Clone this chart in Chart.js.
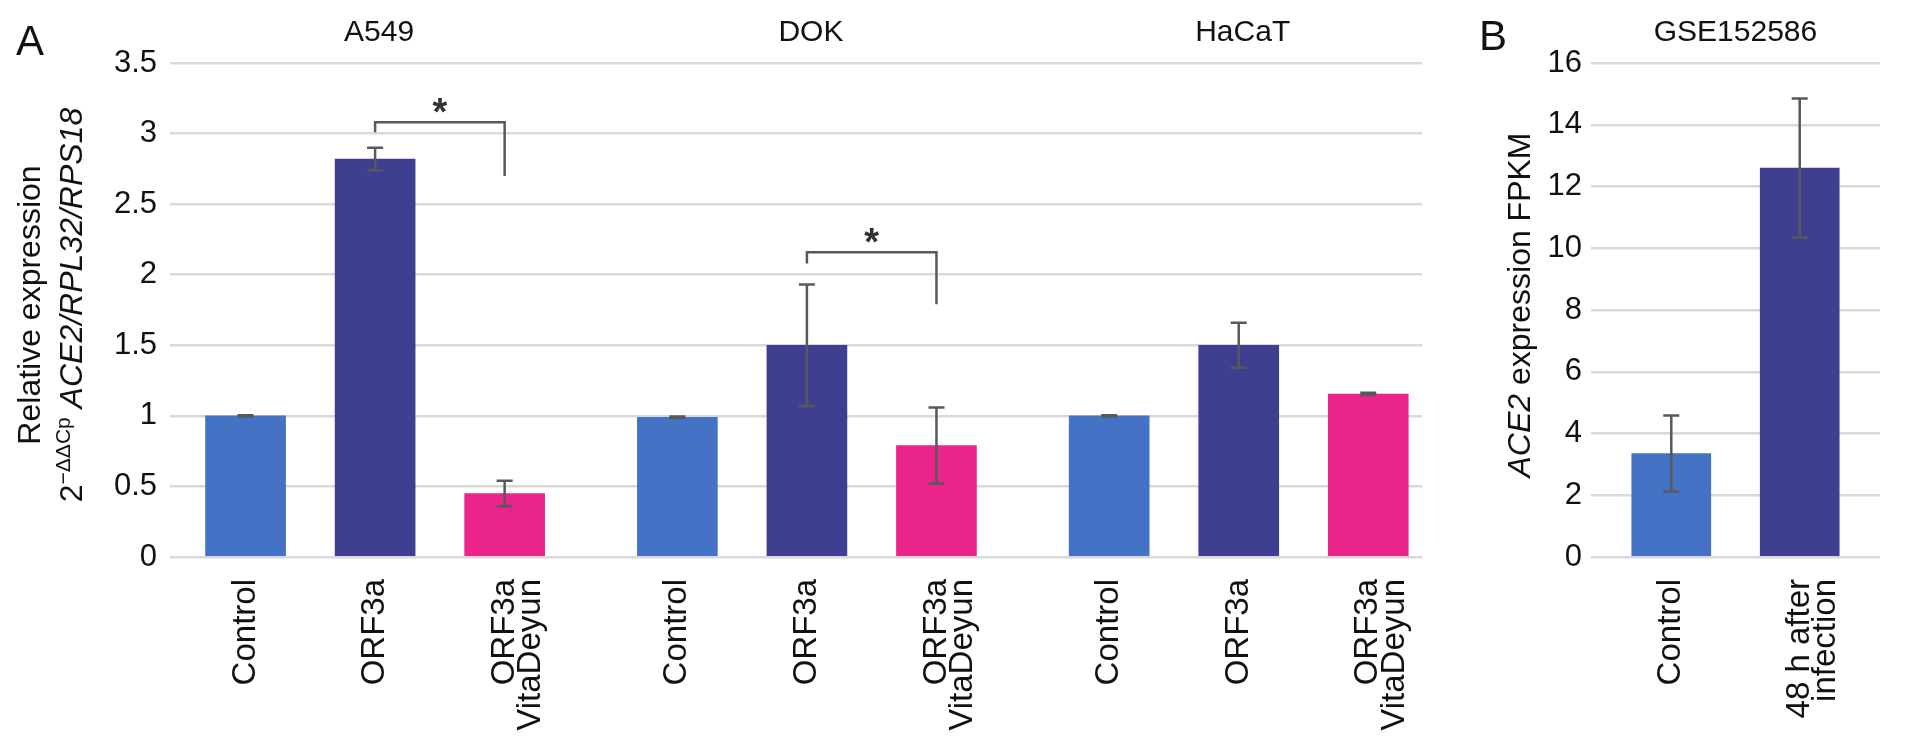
<!DOCTYPE html>
<html>
<head>
<meta charset="utf-8">
<title>ACE2 expression</title>
<script src="https://cdn.jsdelivr.net/npm/chart.js@4.4.0/dist/chart.umd.min.js"></script>
<style>
  body { margin: 0; background: #fff; }
  #wrap { position: relative; width: 1913px; height: 746px; }
  canvas { position: absolute; top: 0; }
</style>
</head>
<body>
<div id="wrap">
  <canvas id="chartA" width="1460" height="746" style="left:0"></canvas>
  <canvas id="chartB" width="453" height="746" style="left:1460px"></canvas>
</div>
<script>
// ---- panel A data ----
var cellLines = ['A549', 'DOK', 'HaCaT'];
var conditions = ['Control', 'ORF3a', ['ORF3a', 'VitaDeyun']];
var condColors = ['#4473c5', '#3f3f92', '#eb248b'];
var meanA549 = [1.00, 2.82, 0.45];
var errA549 = [0.005, 0.08, 0.09];
var meanDOK = [0.99, 1.50, 0.79];
var errDOK = [0.005, 0.43, 0.27];
var meanHaCaT = [1.00, 1.50, 1.155];
var errHaCaT = [0.005, 0.16, 0.008];
var yTicksA = [0, 0.5, 1, 1.5, 2, 2.5, 3, 3.5];
// brackets: group, from condition, to condition, top, left leg end, right leg end
var sigA549 = [0, 1, 2, 3.08, 3.01, 2.70];
var sigDOK = [1, 1, 2, 2.16, 2.08, 1.79];

// ---- panel B data ----
var groupsB = ['Control', ['48 h after', 'infection']];
var colorsB = ['#4473c5', '#3f3f92'];
var meanB = [3.35, 12.6];
var errB = [1.23, 2.25];
var yTicksB = [0, 2, 4, 6, 8, 10, 12, 14, 16];

Chart.defaults.font.family = "'Liberation Sans', Arial, sans-serif";
Chart.defaults.color = '#111';
var FONT = "'Liberation Sans', Arial, sans-serif";
var GRID = '#d9d9d9';
var INK = '#595959';

// panel A is laid out on narrow slots so groups get wider gaps
var SLOTS = 58, FIRST = 3, STEP = 6, GROUP = 20;
var labelsA = [], valuesA = [], errorsA = [], colorsA = [], centerSlot = [];
for (var i = 0; i < SLOTS; i++) { labelsA.push(''); valuesA.push(null); errorsA.push(null); colorsA.push('#fff'); }
var meansA = [meanA549, meanDOK, meanHaCaT], errsA = [errA549, errDOK, errHaCaT];
cellLines.forEach(function (name, g) {
  conditions.forEach(function (c, j) {
    var k = FIRST + g * GROUP + j * STEP;
    labelsA[k] = c; valuesA[k] = meansA[g][j]; errorsA[k] = errsA[g][j]; colorsA[k] = condColors[j];
  });
  centerSlot.push(FIRST + g * GROUP + STEP);
});

var slotB = [2, 6], labelsB = [], valuesB = [], errorsB = [], colB = [];
for (var i = 0; i < 9; i++) { labelsB.push(''); valuesB.push(null); errorsB.push(null); colB.push('#fff'); }
slotB.forEach(function (k, j) { labelsB[k] = groupsB[j]; valuesB[k] = meanB[j]; errorsB[k] = errB[j]; colB[k] = colorsB[j]; });

var errorBars = {
  id: 'errorBars',
  afterDatasetsDraw: function (chart) {
    var ctx = chart.ctx, ys = chart.scales.y, ds = chart.data.datasets[0];
    var meta = chart.getDatasetMeta(0);
    ctx.save();
    ctx.strokeStyle = INK; ctx.lineWidth = 2.5;
    meta.data.forEach(function (bar, i) {
      var v = ds.data[i], e = ds.errors[i];
      if (v == null || e == null) return;
      var t = ys.getPixelForValue(v + e), b = ys.getPixelForValue(v - e);
      ctx.beginPath();
      ctx.moveTo(bar.x, t); ctx.lineTo(bar.x, b);
      ctx.moveTo(bar.x - 8, t); ctx.lineTo(bar.x + 8, t);
      ctx.moveTo(bar.x - 8, b); ctx.lineTo(bar.x + 8, b);
      ctx.stroke();
    });
    ctx.restore();
  }
};

function drawRuns(ctx, runs, cx, cy) {
  // runs: [text, font, raise]; drawn rotated, centred on cy
  ctx.save();
  ctx.translate(cx, cy);
  ctx.rotate(-Math.PI / 2);
  ctx.textBaseline = 'alphabetic';
  ctx.textAlign = 'left';
  var total = 0;
  runs.forEach(function (r) { ctx.font = r[1]; total += ctx.measureText(r[0]).width; });
  var x = -total / 2;
  runs.forEach(function (r) {
    ctx.font = r[1];
    ctx.fillText(r[0], x, -(r[2] || 0));
    x += ctx.measureText(r[0]).width;
  });
  ctx.restore();
}

var decorA = {
  id: 'decorA',
  afterDraw: function (chart) {
    var ctx = chart.ctx, ys = chart.scales.y, meta = chart.getDatasetMeta(0);
    ctx.save();
    ctx.fillStyle = '#111';
    ctx.textAlign = 'center'; ctx.textBaseline = 'middle';
    ctx.font = '30px ' + FONT;
    cellLines.forEach(function (name, g) {
      ctx.fillText(name, meta.data[centerSlot[g]].x + 4, 33);
    });
    ctx.font = '42px ' + FONT;
    ctx.textAlign = 'left'; ctx.textBaseline = 'alphabetic';
    ctx.fillText('A', 16, 55);
    // significance brackets
    [sigA549, sigDOK].forEach(function (s) {
      var x1 = meta.data[FIRST + s[0] * GROUP + s[1] * STEP].x;
      var x2 = meta.data[FIRST + s[0] * GROUP + s[2] * STEP].x;
      var yt = ys.getPixelForValue(s[3]);
      ctx.strokeStyle = INK; ctx.lineWidth = 2.5;
      ctx.beginPath();
      ctx.moveTo(x1, ys.getPixelForValue(s[4]));
      ctx.lineTo(x1, yt); ctx.lineTo(x2, yt);
      ctx.lineTo(x2, ys.getPixelForValue(s[5]));
      ctx.stroke();
      ctx.font = 'bold 38px ' + FONT;
      ctx.textAlign = 'center'; ctx.textBaseline = 'middle';
      ctx.fillStyle = '#333';
      ctx.fillText('*', (x1 + x2) / 2, yt - 8);
    });
    ctx.fillStyle = '#111';
    var cy = (chart.chartArea.top + chart.chartArea.bottom) / 2 - 5;
    drawRuns(ctx, [['Relative expression', '32px ' + FONT, 0]], 40, cy);
    drawRuns(ctx, [
      ['2', '32px ' + FONT, 0],
      ['\u2212\u0394\u0394Cp', '21px ' + FONT, 12],
      [' ', '32px ' + FONT, 0],
      ['ACE2/RPL32/RPS18', 'italic 32px ' + FONT, 0]
    ], 82, cy);
    ctx.restore();
  }
};

var decorB = {
  id: 'decorB',
  afterDraw: function (chart) {
    var ctx = chart.ctx, ca = chart.chartArea;
    ctx.save();
    ctx.fillStyle = '#111';
    ctx.textAlign = 'center'; ctx.textBaseline = 'middle';
    ctx.font = '30px ' + FONT;
    ctx.fillText('GSE152586', (ca.left + ca.right) / 2, 33);
    ctx.font = '42px ' + FONT;
    ctx.textAlign = 'left'; ctx.textBaseline = 'alphabetic';
    ctx.fillText('B', 19, 50);
    drawRuns(ctx, [
      ['ACE2', 'italic 32px ' + FONT, 0],
      [' expression FPKM', '32px ' + FONT, 0]
    ], 70, (ca.top + ca.bottom) / 2 - 5);
    ctx.restore();
  }
};

function baseOptions(yMax, yTicks, yWidth, padRight, tickPad) {
  return {
    responsive: false,
    animation: false,
    layout: { padding: { top: 63, right: padRight, bottom: 0, left: 0 } },
    plugins: { legend: { display: false }, tooltip: { enabled: false } },
    scales: {
      x: {
        grid: { display: false, drawTicks: false },
        border: { display: false },
        ticks: {
          autoSkip: false, minRotation: 90, maxRotation: 90, padding: 22,
          color: '#111', font: { size: 33, lineHeight: 0.8 }
        },
        afterFit: function (s) { s.height = 189; }
      },
      y: {
        min: 0, max: yMax,
        grid: { color: GRID, lineWidth: 2.5, drawTicks: false },
        border: { display: false },
        ticks: {
          padding: tickPad, color: '#111', font: { size: 31 },
          callback: function (v) { return String(v); }
        },
        afterBuildTicks: function (s) { s.ticks = yTicks.map(function (v) { return { value: v }; }); },
        afterFit: function (s) { s.width = yWidth; }
      }
    }
  };
}

new Chart(document.getElementById('chartA'), {
  type: 'bar',
  data: {
    labels: labelsA,
    datasets: [{ data: valuesA, errors: errorsA, backgroundColor: colorsA, borderWidth: 0, barThickness: 80 }]
  },
  options: baseOptions(3.5, yTicksA, 170, 18, 13),
  plugins: [errorBars, decorA]
});

new Chart(document.getElementById('chartB'), {
  type: 'bar',
  data: {
    labels: labelsB,
    datasets: [{ data: valuesB, errors: errorsB, backgroundColor: colB, borderWidth: 0, barThickness: 79 }]
  },
  options: baseOptions(16, yTicksB, 131, 12, 9),
  plugins: [errorBars, decorB]
});
</script>
</body>
</html>
